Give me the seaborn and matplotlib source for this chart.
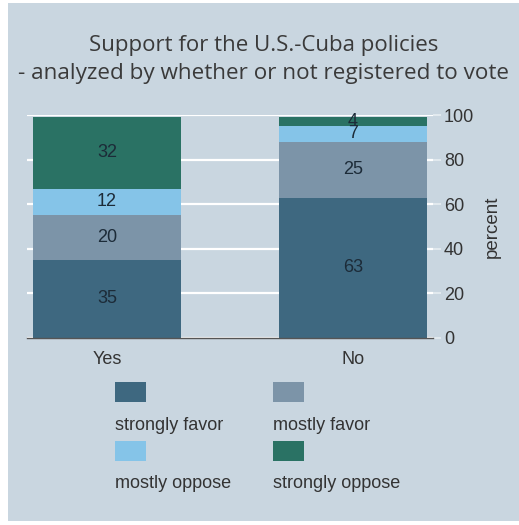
import matplotlib
matplotlib.use("Agg")
import matplotlib.pyplot as plt
from matplotlib.patches import Rectangle
import numpy as np
import pandas as pd
import seaborn as sns

# Survey shares (percent) by voter-registration status
groups = ["Yes", "No"]
responses = ["strongly favor", "mostly favor", "mostly oppose", "strongly oppose"]
strongly_favor = [35, 63]
mostly_favor = [20, 25]
mostly_oppose = [12, 7]
strongly_oppose = [32, 4]
colors = ["#3e6880", "#7c94a8", "#85c4e8", "#2a7264"]

title_lines = ["Support for the U.S.-Cuba policies",
               "- analyzed by whether or not registered to vote"]
y_ticks = [0, 20, 40, 60, 80, 100]

bg = "#c9d6e0"
text_col = "#333333"
fs = 13

sns.set_theme(style="white")
plt.rcParams["font.family"] = ["Liberation Sans", "DejaVu Sans"]

values = {
    "strongly favor": strongly_favor,
    "mostly favor": mostly_favor,
    "mostly oppose": mostly_oppose,
    "strongly oppose": strongly_oppose,
}
rows = []
for gi, g in enumerate(groups):
    running = 0
    for r in responses:
        v = values[r][gi]
        rows.append({"registered": g, "response": r, "value": v,
                     "bottom": running, "top": running + v})
        running += v
df = pd.DataFrame(rows)

fig = plt.figure(figsize=(5.19, 5.25), dpi=100, facecolor="white")
fig.patches.append(Rectangle((8 / 519, 4 / 525), 1 - 8 / 519, 1 - 7 / 525,
                             transform=fig.transFigure, facecolor=bg,
                             edgecolor="none", zorder=-10))

ax = fig.add_axes([27 / 519, 1 - 338 / 525, (433 - 27) / 519, (338 - 115) / 525])
ax.set_facecolor(bg)

# stacked bars: draw cumulative tops from the outermost segment inward
for r, c in reversed(list(zip(responses, colors))):
    sub = df[df["response"] == r]
    sns.barplot(data=sub, x="registered", y="top", order=groups, color=c,
                width=0.6, saturation=1, ax=ax, zorder=3, linewidth=0)

for _, row in df.iterrows():
    xi = groups.index(row["registered"])
    ax.text(xi, row["bottom"] + row["value"] / 2, f"{row['value']}",
            ha="center", va="center", fontsize=fs, color="#1c2b38", zorder=5)

ax.set_xlim(-0.325, 1.325)
ax.set_ylim(0, 100)
ax.set_yticks(y_ticks)
ax.yaxis.tick_right()
ax.yaxis.set_label_position("right")
ax.set_ylabel("percent", fontsize=13.5, color=text_col, labelpad=7)
ax.set_xlabel("")
ax.grid(axis="y", color="white", linewidth=1.6, zorder=1)
ax.set_axisbelow(True)
for s in ["left", "right", "top"]:
    ax.spines[s].set_visible(False)
ax.spines["bottom"].set_color("#555555")
ax.spines["bottom"].set_linewidth(1.0)
ax.spines["bottom"].set_zorder(6)
ax.tick_params(axis="x", length=0, labelsize=fs, colors=text_col, pad=9)
ax.tick_params(axis="y", length=6, width=1.2, color="#e6edf2",
               labelsize=fs, labelcolor=text_col, pad=2)

fig.text(0.509, 1 - 45 / 525, title_lines[0], ha="center", va="center",
         fontsize=16, color="#3a3a3a", family=["Open Sans", "DejaVu Sans"])
fig.text(0.507, 1 - 73 / 525, title_lines[1], ha="center", va="center",
         fontsize=16.2, color="#3a3a3a", family=["Open Sans", "DejaVu Sans"])

# legend: swatch above each label, two columns
leg_x = [115, 273]
leg_sw_y = [382, 441]
leg_txt_y = [425, 483]
for i, (r, c) in enumerate(zip(responses, colors)):
    col, row = i % 2, i // 2
    x0 = leg_x[col] / 519
    fig.patches.append(Rectangle((x0, 1 - (leg_sw_y[row] + 20) / 525),
                                 31 / 519, 20 / 525, transform=fig.transFigure,
                                 facecolor=c, edgecolor="none", zorder=2))
    fig.text(x0, 1 - leg_txt_y[row] / 525, r, ha="left", va="center",
             fontsize=fs, color=text_col)

fig.savefig("out.png", dpi=100, facecolor="white")
